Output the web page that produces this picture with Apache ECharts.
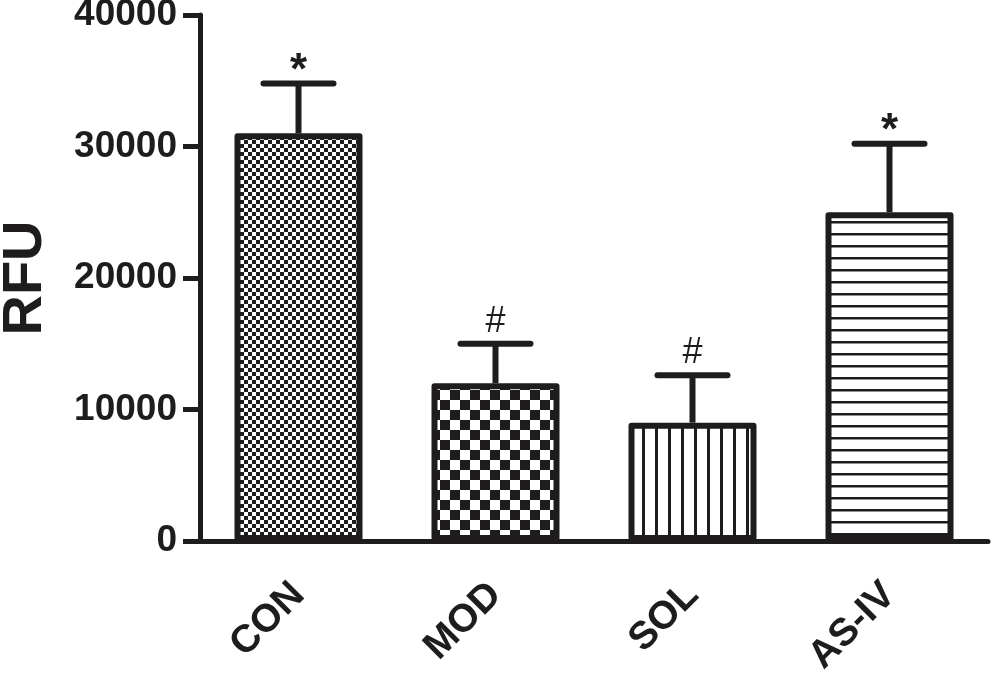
<!DOCTYPE html>
<html>
<head>
<meta charset="utf-8">
<script src="https://cdn.jsdelivr.net/npm/echarts@6/dist/echarts.min.js"></script>
<style>
    html, body {margin: 0; padding: 0; background: #fff;}
    #chart {width: 992px; height: 679px;}
</style>
</head>
<body>
<div id="chart"></div>
<script>
    'use strict';

    // data
    var groups = ['CON', 'MOD', 'SOL', 'AS-IV'];
    var means = [31000, 12000, 9000, 25000];
    var upper = [34800, 15000, 12600, 30200];
    var marks = ['*', '#', '#', '*'];
    var yTicks = [0, 10000, 20000, 30000, 40000];

    var ink = '#1e1c1d';
    var font = 'Arial, "Liberation Sans", Helvetica, sans-serif';

    function makeCanvas(w, h, draw) {
        var c = document.createElement('canvas');
        c.width = w;
        c.height = h;
        var ctx = c.getContext('2d');
        ctx.fillStyle = '#fff';
        ctx.fillRect(0, 0, w, h);
        ctx.fillStyle = ink;
        draw(ctx);
        return {image: c, repeat: 'repeat'};
    }

    function checker(size) {
        return makeCanvas(size * 2, size * 2, function (ctx) {
            ctx.fillRect(0, 0, size, size);
            ctx.fillRect(size, size, size, size);
        });
    }

    var patterns = [
        checker(4),
        checker(10),
        makeCanvas(13, 13, function (ctx) {
            ctx.fillRect(5, 0, 3, 13);
        }),
        makeCanvas(12, 12, function (ctx) {
            ctx.fillRect(0, 5, 12, 2.5);
        })
    ];

    var barData = [];
    for (var i = 0; i < groups.length; i++) {
        barData.push({
            value: means[i],
            itemStyle: {color: patterns[i]}
        });
    }

    var errData = [];
    for (var j = 0; j < groups.length; j++) {
        errData.push([j, means[j], upper[j], marks[j]]);
    }

    function renderError(params, api) {
        var x = api.value(0);
        var top = api.coord([x, api.value(2)]);
        var base = api.coord([x, api.value(1)]);
        var half = 35;
        var mark = errData[params.dataIndex][3];
        var lift = mark === '*' ? 12 : 22;
        return {
            type: 'group',
            children: [{
                type: 'line',
                shape: {x1: top[0], y1: base[1], x2: top[0], y2: top[1]},
                style: {stroke: ink, lineWidth: 6}
            }, {
                type: 'line',
                shape: {x1: top[0] - half, y1: top[1], x2: top[0] + half, y2: top[1]},
                style: {stroke: ink, lineWidth: 6, lineCap: 'round'}
            }, {
                type: 'text',
                style: {
                    x: top[0],
                    y: top[1] - lift,
                    text: mark,
                    fill: ink,
                    font: (mark === '*' ? 'bold 44px ' : '36px ') + font,
                    align: 'center',
                    verticalAlign: 'middle'
                }
            }]
        };
    }

    var chart = echarts.init(document.getElementById('chart'));
    chart.setOption({
        animation: false,
        backgroundColor: '#fff',
        grid: {left: 200, right: 4, top: 15, bottom: 138, containLabel: false, outerBoundsMode: 'none'},
        xAxis: {
            type: 'category',
            data: groups,
            axisLine: {lineStyle: {color: ink, width: 5}},
            axisTick: {alignWithLabel: true, length: 18, lineStyle: {color: ink, width: 5}},
            axisLabel: {
                rotate: 45,
                margin: 48,
                color: ink,
                fontFamily: font,
                fontWeight: 'bold',
                fontSize: 39
            }
        },
        yAxis: {
            type: 'value',
            min: yTicks[0],
            max: yTicks[yTicks.length - 1],
            interval: yTicks[1] - yTicks[0],
            name: 'RFU',
            nameLocation: 'middle',
            nameRotate: 90,
            nameGap: 146,
            nameTextStyle: {color: ink, fontFamily: font, fontWeight: 'bold', fontSize: 56},
            axisLine: {show: true, lineStyle: {color: ink, width: 5}},
            axisTick: {show: true, length: 17, lineStyle: {color: ink, width: 5}},
            axisLabel: {
                margin: 23,
                color: ink,
                fontFamily: font,
                fontWeight: 'bold',
                fontSize: 37,
                formatter: function (v) { return String(v); }
            },
            splitLine: {show: false}
        },
        series: [{
            type: 'bar',
            data: barData,
            barWidth: 128,
            itemStyle: {borderColor: ink, borderWidth: 6, borderJoin: 'round'}
        }, {
            type: 'custom',
            data: errData,
            renderItem: renderError,
            encode: {x: 0, y: [1, 2]},
            z: 3
        }]
    });
</script>
</body>
</html>
